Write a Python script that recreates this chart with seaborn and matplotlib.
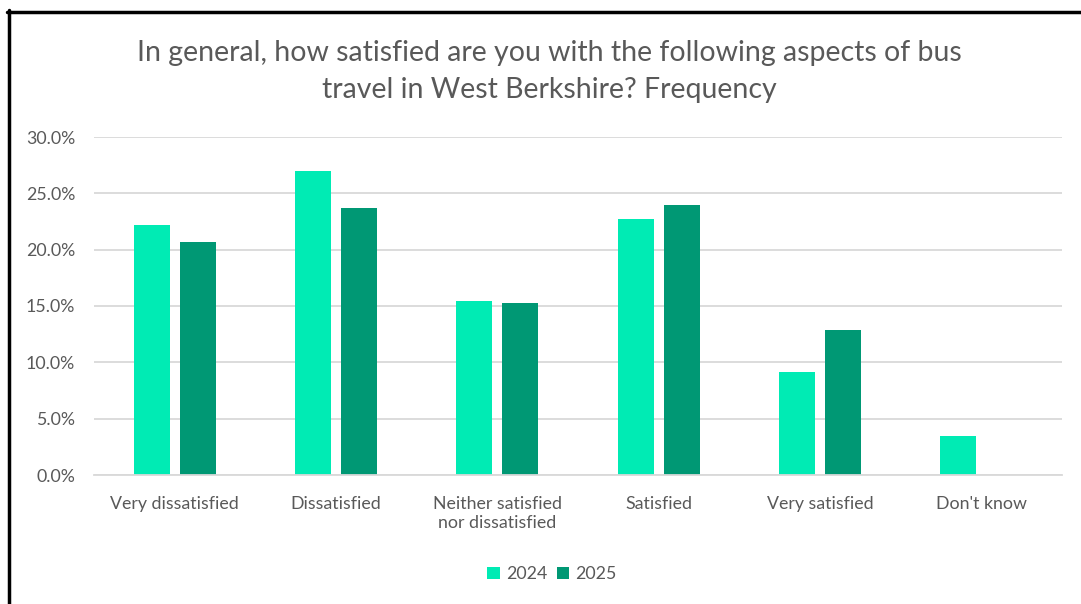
import matplotlib
matplotlib.use("Agg")
import matplotlib.pyplot as plt
import seaborn as sns
import pandas as pd
from matplotlib.lines import Line2D
from matplotlib.patches import Patch
from matplotlib.ticker import FuncFormatter

categories = ["Very dissatisfied", "Dissatisfied", "Neither satisfied\nnor dissatisfied",
              "Satisfied", "Very satisfied", "Don't know"]
values_2024 = [22.2, 27.0, 15.4, 22.7, 9.1, 3.5]
values_2025 = [20.7, 23.7, 15.3, 24.0, 12.9, 0.0]
years = ["2024", "2025"]
colors = ["#00EBB4", "#009874"]
title = "In general, how satisfied are you with the following aspects of bus\ntravel in West Berkshire? Frequency"

df = pd.DataFrame({
    "category": categories * 2,
    "value": values_2024 + values_2025,
    "year": [years[0]] * len(categories) + [years[1]] * len(categories),
})

sns.set_theme(style="white")
plt.rcParams["font.family"] = ["Lato", "DejaVu Sans"]
text_color = "#595959"
grid_color = "#D9D9D9"

fig = plt.figure(figsize=(10.81, 6.04), dpi=100)
ax = fig.add_axes([94 / 1081, 1 - 475 / 604, (1062 - 94) / 1081, (475 - 137) / 604])

sns.barplot(data=df, x="category", y="value", hue="year", order=categories,
            hue_order=years, palette=colors, width=0.57, gap=0.22,
            linewidth=0, saturation=1, ax=ax, legend=False)

ax.set_ylim(0, 30)
ax.set_xlim(-0.5, len(categories) - 0.5)
ax.set_yticks([0, 5, 10, 15, 20, 25, 30])
ax.yaxis.set_major_formatter(FuncFormatter(lambda v, p: f"{v:.1f}%"))
ax.grid(axis="y", color=grid_color, linewidth=1.3)
ax.set_axisbelow(True)
for s in ["top", "right", "left"]:
    ax.spines[s].set_visible(False)
ax.spines["bottom"].set_color(grid_color)
ax.spines["bottom"].set_linewidth(1.3)
ax.tick_params(axis="both", length=0, colors=text_color, labelsize=12.8)
ax.tick_params(axis="y", pad=13.5)
ax.tick_params(axis="x", pad=15)
ax.set_xlabel("")
ax.set_ylabel("")
for lbl in ax.get_xticklabels():
    lbl.set_linespacing(1.25)

fig.text(0.508, 1 - 71.5 / 604, title, ha="center", va="center", fontsize=20.5,
         color=text_color, linespacing=1.54)

handles = [Patch(facecolor=c, edgecolor="none") for c in colors]
fig.legend(handles, years, loc="center", bbox_to_anchor=(552 / 1081, 1 - 574 / 604),
           ncol=2, frameon=False, fontsize=12.8, handlelength=0.7, handleheight=0.7,
           handletextpad=0.35, columnspacing=0.55, labelcolor=text_color)

# screenshot frame lines (top and left)
fig.add_artist(Line2D([7 / 1081, 1], [1 - 11.5 / 604, 1 - 11.5 / 604],
                      transform=fig.transFigure, color="black", linewidth=2.5))
fig.add_artist(Line2D([8.5 / 1081, 8.5 / 1081], [0, 1 - 10 / 604],
                      transform=fig.transFigure, color="black", linewidth=2.5))

fig.savefig("out.png", dpi=100)
